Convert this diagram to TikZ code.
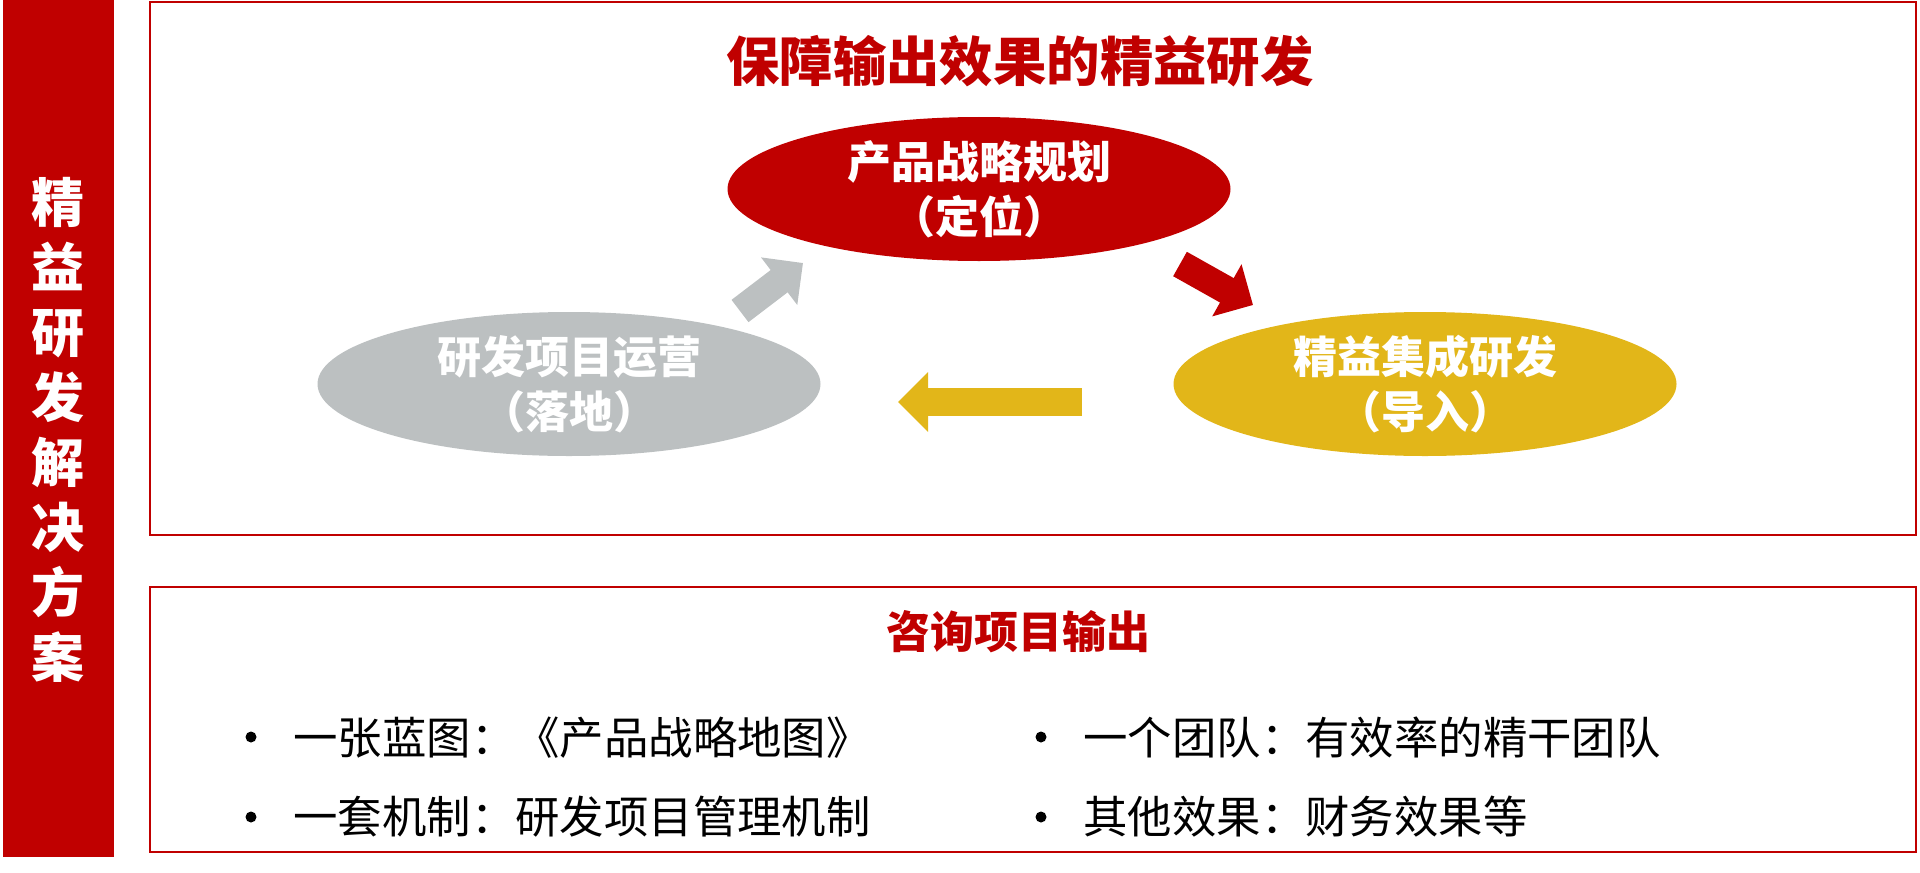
\documentclass[tikz,border=0pt]{standalone}
\usepackage{fontspec}
\setmainfont{Noto Sans CJK SC}
\usetikzlibrary{shapes.geometric,arrows.meta}

\definecolor{leanred}{HTML}{C00000}
\definecolor{leangray}{HTML}{BCC0C1}
\definecolor{leanyellow}{HTML}{E2B619}

\tikzset{
    oval/.style={ellipse, minimum width=251.5pt, minimum height=72pt, inner sep=0pt,
        text=white, align=center, font=\bfseries\fontsize{22}{27.5}\selectfont},
    bigarrow/.style={line width=14pt, -{Triangle[length=15pt,width=29pt]}},
    frame/.style={draw=leanred, line width=1pt},
    item/.style={anchor=west, inner sep=0pt, font=\fontsize{22.2}{26}\selectfont},
    dot/.style={circle, fill=black, inner sep=0pt, minimum size=5.5pt},
}

\begin{document}
\begin{tikzpicture}[x=0.5pt, y=-0.5pt]
    \useasboundingbox (0,0) rectangle (1920,872);

    % Seitenleiste
    \fill[leanred] (3,0) rectangle (114,857);
    \node[text=white, align=center, font=\bfseries\fontsize{26.5}{32.5}\selectfont] (side) at (58,430)
        {精\\益\\研\\发\\解\\决\\方\\案};

    % Rahmen oben
    \draw[frame] (150,2) rectangle (1916,535);
    \node[text=leanred, font=\bfseries\fontsize{26.7}{32}\selectfont] (title) at (1020,61) {保障输出效果的精益研发};

    \node[oval, fill=leanred] (plan) at (979,189) {产品战略规划\\（定位）};
    \node[oval, fill=leanyellow] (integ) at (1425,384) {精益集成研发\\（导入）};
    \node[oval, fill=leangray] (oper) at (569,384) {研发项目运营\\（落地）};

    % Pfeile
    \coordinate (r0) at (1180,264);
    \coordinate (r1) at (1253,305);
    \coordinate (y0) at (1082,402);
    \coordinate (y1) at (898,402);
    \coordinate (g0) at (740,311);
    \coordinate (g1) at (803,263);
    \draw[bigarrow, leanred] (r0) -- (r1);
    \draw[bigarrow, leanyellow] (y0) -- (y1);
    \draw[bigarrow, leangray] (g0) -- (g1);

    % Rahmen unten
    \draw[frame] (150,587) rectangle (1916,852);
    \node[text=leanred, font=\bfseries\fontsize{22}{26}\selectfont] (output) at (1018,632) {咨询项目输出};

    \node[dot] (d1) at (251,737) {};
    \node[item] (i1) at (293,738) {一张蓝图：《产品战略地图》};
    \node[dot] (d2) at (251,817) {};
    \node[item] (i2) at (293,817) {一套机制：研发项目管理机制};
    \node[dot] (d3) at (1041,737) {};
    \node[item] (i3) at (1083,738) {一个团队：有效率的精干团队};
    \node[dot] (d4) at (1041,817) {};
    \node[item] (i4) at (1083,817) {其他效果：财务效果等};
\end{tikzpicture}
\end{document}
